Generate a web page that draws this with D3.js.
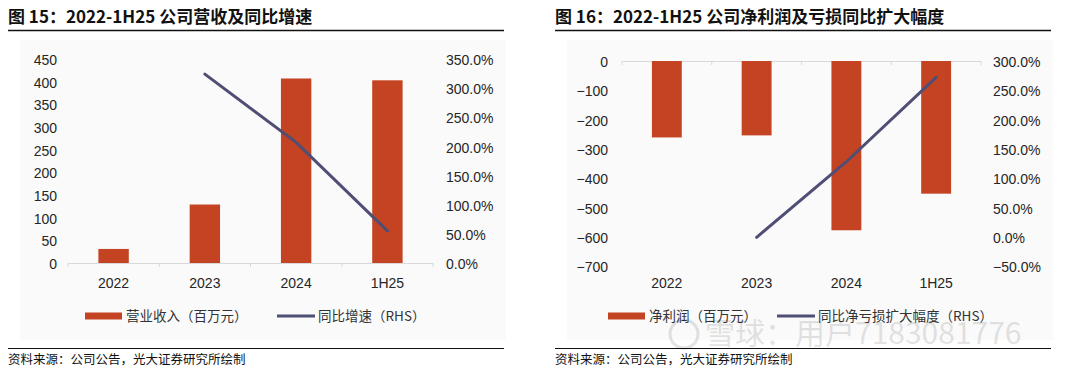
<!DOCTYPE html>
<html>
<head>
<meta charset="utf-8">
<script src="https://cdn.jsdelivr.net/npm/d3@7"></script>
<style>
  body { margin: 0; background: #fff; }
  text { font-family: "Liberation Sans", Arial, "Noto Sans CJK SC", sans-serif; }
  .cjk { font-family: "Noto Sans CJK SC", sans-serif; }
</style>
</head>
<body>
<svg id="chart"></svg>
<script>
// data
const categories = ["2022", "2023", "2024", "1H25"];
const revenue = [31, 129, 407, 403];          // 百万元
const revenueGrowth = [null, 324, 207, 55];   // %
const netProfit = [-261, -254, -578, -453];   // 百万元
const lossGrowth = [null, -1, 128, 272];      // %

const revTicks = [0, 50, 100, 150, 200, 250, 300, 350, 400, 450];
const revGrowthTicks = [0, 50, 100, 150, 200, 250, 300, 350];
const profitTicks = [0, -100, -200, -300, -400, -500, -600, -700];
const lossGrowthTicks = [-50, 0, 50, 100, 150, 200, 250, 300];

const barColor = "#c44322";
const lineColor = "#4f4e74";
const textColor = "#262626";

const svg = d3.select("#chart")
    .attr("width", 1080)
    .attr("height", 371);

function drawPanel(p) {
    const g = svg.append("g").attr("transform", `translate(${p.x0}, 0)`);

    // faint plot background
    g.append("rect")
        .attr("x", 12).attr("y", 40)
        .attr("width", 486).attr("height", 300)
        .attr("fill", "#fafafa");

    // title + rules
    g.append("text")
        .attr("class", "cjk")
        .attr("x", 0).attr("y", 23)
        .attr("font-size", 17).attr("font-weight", "bold")
        .attr("fill", "#111")
        .text(p.title);
    g.append("line").attr("x1", 0).attr("x2", 496).attr("y1", 30.5).attr("y2", 30.5)
        .attr("stroke", "#111").attr("stroke-width", 1.5);
    g.append("line").attr("x1", 0).attr("x2", 496).attr("y1", 348.5).attr("y2", 348.5)
        .attr("stroke", "#111").attr("stroke-width", 1.2);
    g.append("text")
        .attr("class", "cjk")
        .attr("x", 0).attr("y", 364)
        .attr("font-size", 12.5).attr("fill", "#111")
        .text("资料来源：公司公告，光大证券研究所绘制");

    const x = d3.scaleBand()
        .domain(categories)
        .range(p.xRange)
        .paddingInner(0.667)
        .paddingOuter(0.333);

    const y = d3.scaleLinear().domain(p.yDomain).range(p.yRange);
    const y2 = d3.scaleLinear().domain(p.y2Domain).range(p.yRange);

    // left axis labels
    g.append("g")
        .attr("transform", `translate(${p.leftLabelX}, 0)`)
        .call(d3.axisLeft(y).tickValues(p.yTicks).tickSize(0).tickPadding(0))
        .call(a => a.select(".domain").remove())
        .selectAll("text")
        .attr("font-size", 14).attr("fill", textColor).attr("dy", "0.4em")
        .style("font-family", "Liberation Sans, Arial, sans-serif");

    // right axis labels
    g.append("g")
        .attr("transform", `translate(${p.rightLabelX}, 0)`)
        .call(d3.axisRight(y2).tickValues(p.y2Ticks).tickSize(0).tickPadding(0)
            .tickFormat(d => d3.format(".1f")(d) + "%"))
        .call(a => a.select(".domain").remove())
        .selectAll("text")
        .attr("font-size", 14).attr("fill", textColor).attr("dy", "0.4em")
        .style("font-family", "Liberation Sans, Arial, sans-serif");

    // category baseline with boundary ticks
    const base = y(0);
    g.append("line")
        .attr("x1", p.xRange[0]).attr("x2", p.xRange[1])
        .attr("y1", base + 0.5).attr("y2", base + 0.5)
        .attr("stroke", "#d9d9d9");
    const step = x.step();
    g.selectAll("line.tk")
        .data(d3.range(categories.length + 1))
        .enter()
        .append("line")
        .attr("class", "tk")
        .attr("x1", i => p.xRange[0] + i * step)
        .attr("x2", i => p.xRange[0] + i * step)
        .attr("y1", base).attr("y2", base + 4)
        .attr("stroke", "#d9d9d9");

    // category labels
    g.selectAll("text.cat")
        .data(categories)
        .enter()
        .append("text")
        .attr("class", "cat")
        .attr("x", d => x(d) + x.bandwidth() / 2)
        .attr("y", 288)
        .attr("text-anchor", "middle")
        .attr("font-size", 14).attr("fill", textColor)
        .text(d => d);

    // bars
    g.selectAll("rect.bar")
        .data(p.bars)
        .enter()
        .append("rect")
        .attr("class", "bar")
        .attr("x", (d, i) => x(categories[i]))
        .attr("width", x.bandwidth())
        .attr("y", d => Math.min(y(d), y(0)))
        .attr("height", d => Math.abs(y(d) - y(0)))
        .attr("fill", barColor);

    // line
    const line = d3.line()
        .defined(d => d[1] != null)
        .x(d => x(d[0]) + x.bandwidth() / 2)
        .y(d => y2(d[1]));
    g.append("path")
        .datum(categories.map((c, i) => [c, p.line[i]]))
        .attr("d", line)
        .attr("fill", "none")
        .attr("stroke", lineColor)
        .attr("stroke-width", 3)
        .attr("stroke-linecap", "round");

    // legend
    const ly = 316;
    g.append("rect")
        .attr("x", p.legend[0]).attr("y", ly - 3.5)
        .attr("width", 37).attr("height", 7)
        .attr("fill", barColor);
    g.append("text")
        .attr("class", "cjk")
        .attr("x", p.legend[0] + 41).attr("y", ly + 5)
        .attr("font-size", 13.5).attr("fill", "#333")
        .text(p.barLabel);
    g.append("line")
        .attr("x1", p.legend[1]).attr("x2", p.legend[1] + 38)
        .attr("y1", ly).attr("y2", ly)
        .attr("stroke", lineColor).attr("stroke-width", 3);
    g.append("text")
        .attr("class", "cjk")
        .attr("x", p.legend[1] + 41).attr("y", ly + 5)
        .attr("font-size", 13.5).attr("fill", "#333")
        .text(p.lineLabel);

    return g;
}

drawPanel({
    x0: 8,
    title: "图 15：2022-1H25 公司营收及同比增速",
    xRange: [60, 425],
    yDomain: [0, 450], y2Domain: [0, 350],
    yRange: [263, 59],
    yTicks: revTicks, y2Ticks: revGrowthTicks,
    leftLabelX: 49, rightLabelX: 438,
    bars: revenue, line: revenueGrowth,
    legend: [77, 269],
    barLabel: "营业收入（百万元）",
    lineLabel: "同比增速（RHS）"
});

const right = drawPanel({
    x0: 555,
    title: "图 16：2022-1H25 公司净利润及亏损同比扩大幅度",
    xRange: [67, 426],
    yDomain: [-700, 0], y2Domain: [-50, 300],
    yRange: [266, 61],
    yTicks: profitTicks, y2Ticks: lossGrowthTicks,
    leftLabelX: 53, rightLabelX: 438,
    bars: netProfit, line: lossGrowth,
    legend: [53, 222],
    barLabel: "净利润（百万元）",
    lineLabel: "同比净亏损扩大幅度（RHS）"
});

// watermark
const wm = right.append("g").attr("opacity", 0.1);
wm.append("circle")
    .attr("cx", 129).attr("cy", 334).attr("r", 14)
    .attr("fill", "none").attr("stroke", "#000").attr("stroke-width", 3);
wm.append("text")
    .attr("class", "cjk")
    .attr("x", 150).attr("y", 344)
    .attr("font-size", 30)
    .attr("fill", "#000")
    .text("雪球：用户7183081776");
</script>
</body>
</html>
